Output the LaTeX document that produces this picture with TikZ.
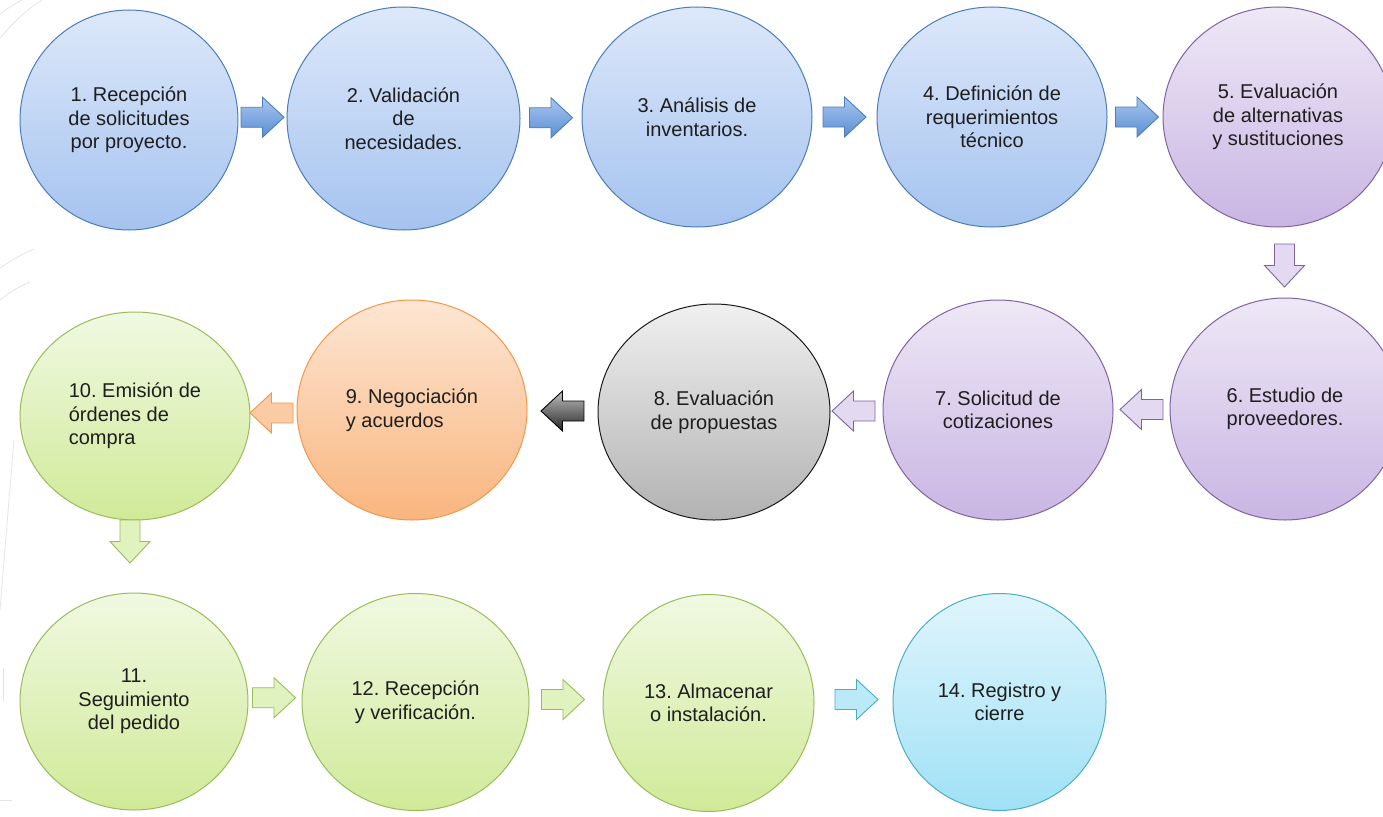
\documentclass[tikz,border=0pt]{standalone}
\usepackage{fontspec}
\setmainfont{Liberation Sans}
\usetikzlibrary{shapes.geometric,calc}
\frenchspacing

\definecolor{bluebd}{HTML}{4A7EBB}
\definecolor{bluetop}{HTML}{DDE8FA}
\definecolor{bluebot}{HTML}{A5C3EF}
\definecolor{purpbd}{HTML}{8064A2}
\definecolor{purptop}{HTML}{EEE8F6}
\definecolor{purpbot}{HTML}{C9B5E3}
\definecolor{graybd}{HTML}{1A1A1A}
\definecolor{graytop}{HTML}{F0F0F0}
\definecolor{graybot}{HTML}{B2B2B2}
\definecolor{orbd}{HTML}{F79646}
\definecolor{ortop}{HTML}{FDE6D3}
\definecolor{orbot}{HTML}{F9B57E}
\definecolor{grbd}{HTML}{9BBB59}
\definecolor{grtop}{HTML}{F0F9E2}
\definecolor{grbot}{HTML}{D0EA98}
\definecolor{cybd}{HTML}{4BACC6}
\definecolor{cytop}{HTML}{E0F5FC}
\definecolor{cybot}{HTML}{A0E1F6}
\definecolor{txt}{HTML}{1E1E1E}
\definecolor{arrtop}{HTML}{A9C6EE}
\definecolor{arrbot}{HTML}{5A8ED3}

\tikzset{
  stage/.style={ellipse, draw, line width=1pt, inner sep=0pt, align=center,
    text=txt, font=\fontsize{20}{23.6}\selectfont},
  bluec/.style={stage, draw=bluebd, top color=bluetop, bottom color=bluebot},
  purpc/.style={stage, draw=purpbd, top color=purptop, bottom color=purpbot},
  grayc/.style={stage, draw=graybd, top color=graytop, bottom color=graybot},
  orc/.style={stage, draw=orbd, top color=ortop, bottom color=orbot},
  grc/.style={stage, draw=grbd, top color=grtop, bottom color=grbot},
  cyc/.style={stage, draw=cybd, top color=cytop, bottom color=cybot},
  bluearr/.style={draw=bluebd, line width=0.9pt, top color=arrtop, bottom color=arrbot},
  purparr/.style={draw=purpbd, line width=0.9pt, fill=purptop!70!purpbot},
  darkarr/.style={draw=black, line width=0.9pt, top color=black!25, bottom color=black!85},
  orarr/.style={draw=orbd, line width=0.9pt, fill=orbot!55!ortop},
  grarr/.style={draw=grbd, line width=0.9pt, fill=grtop!50!grbot},
  cyarr/.style={draw=cybd, line width=0.9pt, fill=cytop!40!cybot},
  swoosh/.style={draw=black!10, line width=0.8pt},
}

% block arrow: style, centre coordinate, rotation
\newcommand{\blockarr}[3]{%
  \path[#1, shift={(#2)}, rotate=#3]
    (-21.5,-10) -- (0,-10) -- (0,-20) -- (21.5,0) -- (0,20) -- (0,10) -- (-21.5,10) -- cycle;}

\begin{document}
\begin{tikzpicture}[x=1pt, y=-1pt]
\useasboundingbox (0,0) rectangle (1383,816);
\fill[white] (0,0) rectangle (1383,816);

% faint background swooshes at left edge
\draw[swoosh] (0,38) .. controls (14,22) and (26,10) .. (42,0);
\draw[swoosh] (0,14) .. controls (8,8) and (14,4) .. (22,0);
\draw[swoosh] (0,268) .. controls (12,260) and (22,254) .. (34,249);
\draw[swoosh] (0,300) .. controls (10,292) and (20,286) .. (30,282);
\draw[swoosh] (14,440) .. controls (9,500) and (4,560) .. (0,610);
\draw[swoosh] (3,668) -- (3,702);
\draw[swoosh] (0,800) -- (12,800);

% row 1
\node[bluec, minimum width=218, minimum height=220] (c1) at (129,120) {1. Recepción\\de solicitudes\\por proyecto.};
\node[bluec, minimum width=233, minimum height=223] (c2) at (403.5,118.5) {2. Validación\\de\\necesidades.};
\node[bluec, minimum width=230, minimum height=220] (c3) at (697,117) {3. Análisis de\\inventarios.};
\node[bluec, minimum width=230, minimum height=220] (c4) at (992,117) {4. Definición de\\requerimientos\\técnico};
\node[purpc, minimum width=230, minimum height=220] (c5) at (1278,117) {5. Evaluación\\de alternativas\\y sustituciones};

% row 2
\node[purpc, minimum width=230, minimum height=222] (c6) at (1285,409) {6. Estudio de\\proveedores.};
\node[purpc, minimum width=230, minimum height=220] (c7) at (998,410) {7. Solicitud de\\cotizaciones};
\node[grayc, minimum width=232, minimum height=216] (c8) at (714,412) {8. Evaluación\\de propuestas};
\node[orc, minimum width=230, minimum height=220, align=left] (c9) at (412,410) {9. Negociación\\y acuerdos};
\node[grc, minimum width=230, minimum height=208, align=left] (c10) at (135,416) {10. Emisión de\\órdenes de\\compra};

% row 3
\node[grc, minimum width=228, minimum height=217] (c11) at (134,701.5) {11.\\Seguimiento\\del pedido};
\node[grc, minimum width=227, minimum height=217] (c12) at (415.5,702) {12. Recepción\\y verificación.};
\node[grc, minimum width=211, minimum height=217] (c13) at (708.5,703) {13. Almacenar\\o instalación.};
\node[cyc, minimum width=213, minimum height=217] (c14) at (999.5,702) {14. Registro y\\cierre};

% arrow anchor points
\coordinate (a12) at ($(c1.east)!0.5!(c2.west)+(0,-2)$);
\coordinate (a23) at ($(c2.east)!0.5!(c3.west)$);
\coordinate (a34) at ($(c3.east)!0.5!(c4.west)$);
\coordinate (a45) at ($(c4.east)!0.5!(c5.west)+(2,0)$);
\coordinate (a56) at ($(c5.south)!0.5!(c6.north)+(3,3)$);
\coordinate (a67) at ($(c6.west)!0.5!(c7.east)$);
\coordinate (a78) at ($(c7.west)!0.5!(c8.east)+(-3,0)$);
\coordinate (a89) at ($(c8.west)!0.5!(c9.east)$);
\coordinate (a910) at ($(c9.west)!0.5!(c10.east)+(-2,0)$);
\coordinate (a1011) at ($(c10.south)+(-5,21)$);
\coordinate (a1112) at ($(c11.east)!0.5!(c12.west)+(-1,-4)$);
\coordinate (a1213) at ($(c12.east)!0.5!(c13.west)+(-3,-3)$);
\coordinate (a1314) at ($(c13.east)!0.5!(c14.west)+(3,-3)$);

\blockarr{bluearr}{a12}{0}
\blockarr{bluearr}{a23}{0}
\blockarr{bluearr}{a34}{0}
\blockarr{bluearr}{a45}{0}
\blockarr{purparr}{a56}{-90}
\blockarr{purparr}{a67}{180}
\blockarr{purparr}{a78}{180}
\blockarr{darkarr}{a89}{180}
\blockarr{orarr}{a910}{180}
\blockarr{grarr}{a1011}{-90}
\blockarr{grarr}{a1112}{0}
\blockarr{grarr}{a1213}{0}
\blockarr{cyarr}{a1314}{0}
\end{tikzpicture}
\end{document}
